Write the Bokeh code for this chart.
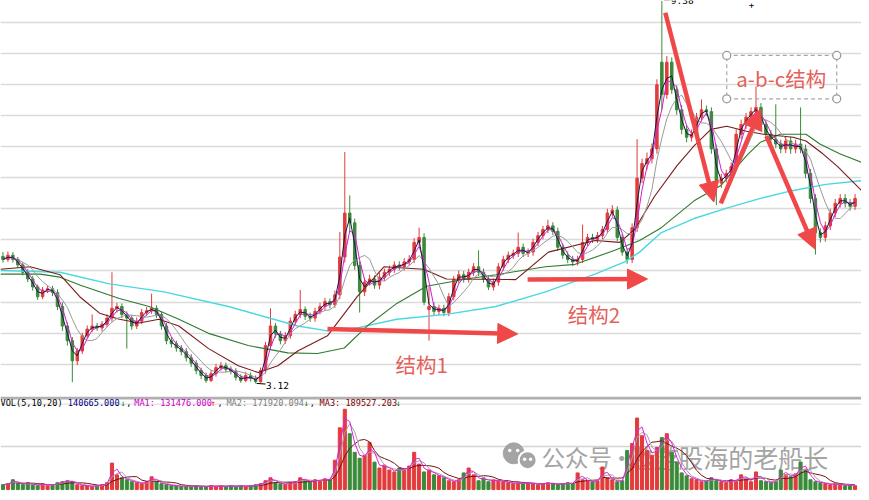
import pandas as pd
from bokeh.plotting import figure
from bokeh.layouts import column
from bokeh.models import (Range1d, FixedTicker, Span, Arrow, NormalHead, Label,
                          ColumnDataSource, Grid)
from bokeh.core.properties import value
from bokeh.embed import file_html
from bokeh.resources import INLINE

# ---------------- data ----------------
close = [
    5.15, 5.22, 5.15, 5.06, 4.94, 4.83, 4.70, 4.54, 4.65, 4.67,
    4.61, 4.38, 4.06, 3.82, 3.49, 3.65, 3.90, 4.01, 4.06, 4.03,
    4.09, 4.19, 4.35, 4.38, 4.25, 4.19, 4.06, 4.14, 4.28, 4.31,
    4.35, 4.25, 4.06, 3.82, 3.77, 3.70, 3.64, 3.54, 3.45, 3.33,
    3.25, 3.17, 3.28, 3.38, 3.41, 3.35, 3.32, 3.22, 3.17, 3.25,
    3.20, 3.15, 3.33, 3.74, 4.06, 3.93, 3.82, 3.90, 4.14, 4.25,
    4.33, 4.22, 4.19, 4.30, 4.38, 4.46, 4.41, 4.57, 5.19, 5.91,
    5.75, 5.05, 4.62, 4.78, 4.83, 4.73, 4.86, 4.94, 4.99, 5.06,
    5.03, 5.11, 5.15, 5.43, 5.51, 4.45, 4.38, 4.30, 4.35, 4.28,
    4.54, 4.82, 4.90, 4.83, 4.94, 5.03, 4.94, 4.83, 4.70, 4.78,
    5.03, 5.15, 5.22, 5.25, 5.35, 5.25, 5.27, 5.43, 5.54, 5.64,
    5.70, 5.61, 5.35, 5.22, 5.15, 5.11, 5.15, 5.43, 5.51, 5.48,
    5.54, 5.64, 5.91, 5.96, 5.51, 5.27, 5.15, 5.67, 6.48, 6.72,
    6.80, 6.96, 8.01, 7.85, 8.38, 7.93, 7.60, 7.28, 7.15, 7.20,
    7.48, 7.60, 7.57, 6.96, 6.40, 6.48, 6.56, 6.67, 7.20, 7.36,
    7.48, 7.57, 7.64, 7.36, 7.20, 7.12, 7.04, 6.96, 7.09, 6.96,
    7.04, 6.96, 6.56, 6.15, 5.59, 5.51, 5.70, 5.91, 6.07, 6.15,
    6.07, 6.02, 6.15,
]
open_ = [
    5.20, 5.15, 5.22, 5.15, 5.06, 4.94, 4.83, 4.70, 4.54, 4.65,
    4.67, 4.61, 4.38, 4.06, 3.82, 3.49, 3.65, 3.90, 4.01, 4.06,
    4.03, 4.09, 4.19, 4.35, 4.38, 4.25, 4.19, 4.06, 4.14, 4.28,
    4.31, 4.35, 4.25, 4.06, 3.82, 3.77, 3.70, 3.64, 3.54, 3.45,
    3.33, 3.25, 3.17, 3.28, 3.38, 3.41, 3.35, 3.32, 3.22, 3.17,
    3.25, 3.20, 3.15, 3.33, 3.74, 4.06, 3.93, 3.82, 3.90, 4.14,
    4.25, 4.33, 4.22, 4.19, 4.30, 4.38, 4.46, 4.41, 4.57, 5.19,
    5.91, 5.75, 5.05, 4.62, 4.78, 4.83, 4.73, 4.86, 4.94, 4.99,
    5.06, 5.03, 5.11, 5.15, 5.43, 5.51, 4.33, 4.38, 4.30, 4.35,
    4.28, 4.54, 4.82, 4.90, 4.83, 4.94, 5.03, 4.94, 4.83, 4.70,
    4.78, 5.03, 5.15, 5.22, 5.25, 5.35, 5.25, 5.27, 5.43, 5.54,
    5.64, 5.70, 5.61, 5.35, 5.22, 5.15, 5.11, 5.15, 5.43, 5.51,
    5.48, 5.54, 5.64, 5.91, 5.96, 5.51, 5.27, 5.15, 5.67, 6.48,
    6.72, 6.80, 6.96, 8.38, 7.85, 8.38, 7.93, 7.60, 7.28, 7.15,
    7.20, 7.48, 7.60, 7.57, 6.96, 6.40, 6.48, 6.56, 6.67, 7.20,
    7.36, 7.48, 7.57, 7.64, 7.36, 7.20, 7.12, 7.04, 6.96, 7.09,
    6.96, 7.04, 6.96, 6.56, 6.15, 5.59, 5.51, 5.70, 5.91, 6.07,
    6.15, 6.07, 6.02,
]
high = [
    5.27, 5.28, 5.27, 5.19, 5.10, 4.99, 4.88, 4.74, 4.70, 4.72,
    4.72, 4.66, 4.45, 4.12, 3.88, 3.70, 3.95, 4.07, 4.25, 4.11,
    4.14, 4.25, 4.94, 4.44, 4.43, 4.30, 4.24, 4.20, 4.34, 4.37,
    4.59, 4.40, 4.30, 4.11, 3.88, 3.82, 3.75, 3.70, 3.60, 3.50,
    3.38, 3.30, 3.34, 3.44, 3.47, 3.46, 3.40, 3.37, 3.27, 3.31,
    3.30, 3.25, 3.38, 3.80, 4.35, 4.11, 3.98, 3.96, 4.20, 4.31,
    4.65, 4.38, 4.28, 4.36, 4.44, 4.52, 4.51, 4.64, 5.60, 6.91,
    6.20, 5.82, 5.12, 4.85, 4.90, 4.89, 4.93, 5.00, 5.05, 5.12,
    5.12, 5.17, 5.22, 5.50, 5.67, 5.58, 4.70, 4.45, 4.41, 4.41,
    4.60, 4.88, 4.97, 4.96, 5.00, 5.09, 5.30, 5.00, 4.89, 4.84,
    5.09, 5.21, 5.28, 5.31, 5.59, 5.41, 5.33, 5.49, 5.60, 5.70,
    5.80, 5.76, 5.67, 5.41, 5.28, 5.21, 5.21, 5.72, 5.57, 5.57,
    5.60, 5.70, 5.98, 6.04, 6.02, 5.57, 5.33, 5.74, 7.12, 6.80,
    6.90, 7.05, 8.10, 9.38, 8.48, 8.46, 8.00, 7.68, 7.35, 7.28,
    7.55, 7.77, 7.67, 7.64, 7.03, 6.55, 6.62, 6.74, 7.28, 7.44,
    7.55, 7.64, 7.98, 7.71, 7.43, 7.27, 7.69, 7.11, 7.16, 7.16,
    7.11, 7.64, 7.03, 6.63, 6.22, 5.66, 5.77, 5.98, 6.14, 6.22,
    6.22, 6.14, 6.22,
]
low = [
    5.10, 5.11, 5.10, 5.01, 4.89, 4.78, 4.64, 4.49, 4.50, 4.60,
    4.55, 4.32, 3.98, 3.74, 3.14, 3.42, 3.60, 3.85, 3.96, 3.98,
    3.97, 4.04, 4.13, 4.28, 4.19, 3.69, 4.00, 4.01, 4.09, 4.23,
    4.26, 4.19, 4.00, 3.76, 3.71, 3.64, 3.58, 3.48, 3.39, 3.27,
    3.19, 3.13, 3.14, 3.23, 3.33, 3.30, 3.27, 3.17, 3.13, 3.14,
    3.15, 3.12, 3.13, 3.28, 3.68, 3.87, 3.76, 3.77, 3.85, 4.08,
    4.19, 4.16, 4.13, 4.13, 4.25, 4.32, 4.35, 4.36, 4.50, 5.10,
    5.60, 4.98, 4.28, 4.55, 4.72, 4.67, 4.66, 4.80, 4.88, 4.93,
    4.97, 4.97, 5.05, 5.09, 5.37, 4.40, 3.82, 4.24, 4.24, 4.22,
    4.22, 4.48, 4.76, 4.77, 4.77, 4.88, 4.88, 4.77, 4.65, 4.64,
    4.72, 4.97, 5.09, 5.16, 5.19, 5.19, 5.19, 5.21, 5.37, 5.48,
    5.58, 5.55, 5.29, 5.16, 5.09, 5.04, 5.05, 5.09, 5.37, 5.42,
    5.42, 5.48, 5.58, 5.85, 5.45, 5.21, 5.08, 5.09, 5.60, 6.40,
    6.62, 6.72, 6.88, 7.60, 7.78, 7.86, 7.52, 7.20, 7.07, 7.08,
    7.12, 7.41, 7.50, 6.88, 6.04, 6.32, 6.41, 6.49, 6.60, 7.12,
    7.29, 7.41, 7.50, 7.29, 7.13, 7.05, 6.97, 6.89, 6.89, 6.88,
    6.89, 6.89, 6.48, 6.07, 5.23, 5.43, 5.44, 5.63, 5.84, 6.00,
    6.00, 5.95, 5.96,
]
volume = [  # thousand shares
    175, 210, 350, 210, 175, 245, 175, 140, 210, 140,
    175, 245, 280, 315, 280, 175, 140, 140, 105, 140,
    175, 245, 945, 525, 420, 350, 280, 245, 210, 280,
    455, 280, 210, 175, 140, 140, 105, 140, 105, 140,
    105, 105, 140, 105, 140, 105, 140, 105, 140, 105,
    140, 175, 210, 315, 420, 245, 210, 175, 245, 280,
    420, 315, 280, 350, 315, 385, 350, 1050, 2205, 2870,
    1995, 1330, 1120, 1225, 1680, 980, 770, 875, 700, 630,
    770, 700, 840, 1330, 910, 630, 700, 525, 490, 420,
    315, 280, 350, 595, 770, 525, 315, 420, 280, 350,
    315, 280, 245, 210, 245, 210, 245, 210, 175, 210,
    245, 210, 175, 210, 245, 210, 595, 350, 315, 280,
    315, 805, 420, 350, 280, 315, 1400, 1645, 2555, 1925,
    1400, 1225, 1505, 1855, 1995, 1330, 980, 595, 490, 385,
    350, 280, 315, 420, 315, 280, 245, 350, 315, 525,
    385, 280, 630, 315, 280, 245, 280, 700, 525, 455,
    560, 980, 700, 350, 280, 245, 210, 175, 210, 175,
    140, 175, 140,
]

# long moving averages (bar position, price)
ma_mid_x = [-0.5, 5.5, 11.5, 15.5, 19.5, 23.5, 27.5, 31.5, 35.5, 41.5, 47.5, 51.5,
            55.5, 59.5, 65.5, 71.5, 76.9, 84.9, 89.5, 103.5, 110.1, 119.5, 124.5,
            127.5, 131.5, 136.1, 139.5, 142.9, 146.1, 150.1, 153.5, 159.5, 162.1,
            165.5, 168.5, 173.3]
ma_mid_y = [4.99, 5.03, 4.90, 4.54, 4.27, 4.17, 4.11, 4.17, 4.06, 3.69, 3.41, 3.30,
            3.41, 3.65, 3.90, 4.54, 5.03, 4.99, 4.83, 4.82, 5.27, 5.46, 5.43,
            5.64, 6.18, 6.69, 7.01, 7.28, 7.33, 7.25, 7.20, 7.15, 7.09,
            6.88, 6.67, 6.28]
ma_long_x = [-0.5, 7.5, 11.5, 15.5, 23.5, 29.5, 35.5, 41.5, 49.5, 57.5, 63.5, 68.9,
             73.5, 79.5, 85.5, 93.5, 99.5, 109.5, 115.5, 123.5, 128.5, 132.9, 139.5,
             144.9, 150.1, 152.9, 156.9, 162.1, 164.9, 168.9, 173.3]
ma_long_y = [4.91, 4.91, 4.86, 4.73, 4.51, 4.38, 4.17, 3.94, 3.74, 3.62, 3.61, 3.70,
             4.06, 4.43, 4.71, 4.83, 4.90, 5.03, 5.07, 5.30, 5.46, 5.67, 6.11,
             6.36, 6.85, 7.07, 7.20, 7.20, 7.04, 6.88, 6.74]
ma_year_x = [-0.5, 11.5, 21.5, 32.5, 45.5, 59.5, 65.5, 71.5, 79.5, 89.5, 99.5, 109.5,
             119.5, 125.5, 128.5, 132.9, 139.5, 146.1, 152.9, 159.5, 166.1, 173.3]
ma_year_y = [4.97, 4.94, 4.75, 4.62, 4.38, 4.06, 3.98, 4.03, 4.17, 4.25, 4.38, 4.62,
             4.91, 5.11, 5.27, 5.59, 5.82, 5.99, 6.15, 6.28, 6.38, 6.44]

grid_prices = [3.437, 3.945, 4.453, 4.961, 5.469, 5.977, 6.485, 6.993, 7.501,
               8.009, 8.517, 9.025]
vol_grid = [1540]

vol_text = [
    ("VOL(5,10,20)", "#000000"), ("140665.000", "#000080"), ("↓", "#008000"),
    (",", "#000000"), ("MA1: 131476.000", "#cc00cc"), ("↑", "#ff0000"),
    (",", "#000000"), ("MA2: 171920.094", "#808080"), ("↓", "#008000"),
    (",", "#000000"), ("MA3: 189527.203", "#800000"), ("↓", "#008000"),
]
vol_text_x = [0, 68, 121, 127, 135, 212, 219, 228, 306, 312, 322, 399]

# ---------------- derived ----------------
N = len(close)
xs = list(range(N))
UP, DN = "#e23b3b", "#3a8a3a"
cols = [UP if c >= o else DN for o, c in zip(open_, close)]
btop = [max(o, c) for o, c in zip(open_, close)]
bbot = [min(o, c) for o, c in zip(open_, close)]
src = ColumnDataSource(dict(x=xs, h=high, l=low, top=btop, bot=bbot, col=cols, vol=volume))

cs = pd.Series(close)
ma_a = cs.rolling(2, min_periods=1).mean().tolist()
ma_b = cs.rolling(3, min_periods=1).mean().tolist()
ma_c = cs.rolling(6, min_periods=1).mean().tolist()
vs = pd.Series(volume)
vma_a = vs.rolling(2, min_periods=1).mean().tolist()
vma_b = vs.rolling(3, min_periods=1).mean().tolist()
vma_c = vs.rolling(6, min_periods=1).mean().tolist()

W = 861
H_MAIN, H_VOL = 396, 96
SX = W / 869.0
XR = (-0.5, 173.3)

# ---------------- main panel ----------------
p = figure(width=W, height=H_MAIN, x_range=Range1d(*XR), y_range=Range1d(2.906, 9.39),
           output_backend="svg", toolbar_location=None, tools="",
           x_axis_location=None, y_axis_location=None, min_border=0)
p.outline_line_color = None
p.background_fill_color = "white"
p.border_fill_color = "white"
for g in p.grid:
    g.visible = False
p.add_layout(Grid(dimension=1, ticker=FixedTicker(ticks=grid_prices),
                  grid_line_color="#dadada", grid_line_width=1.6))

p.segment(x0="x", y0="l", x1="x", y1="h", line_color="col", line_width=1, source=src)
p.vbar(x="x", width=0.5, top="top", bottom="bot", fill_color="col", line_color="col",
       line_width=1, source=src)

p.line(ma_year_x, ma_year_y, line_color="#48d8e0", line_width=1.4)
p.line(ma_long_x, ma_long_y, line_color="#2f7a2f", line_width=1.1)
p.line(ma_mid_x, ma_mid_y, line_color="#7a1a1a", line_width=1.1)
p.line(xs, ma_c, line_color="#9a9a9a", line_width=1)
p.line(xs, ma_b, line_color="#d020d0", line_width=1)
p.line(xs, ma_a, line_color="#1a1a40", line_width=1)

MONO = value("DejaVu Sans Mono")
CJK = value("Noto Sans CJK SC")
p.segment(x0=[51.2], y0=[3.12], x1=[53.0], y1=[3.11], line_color="black", line_width=1)
p.text(x=[53.1], y=[3.09], text=["3.12"], text_font=MONO, text_font_size="9.5px",
       text_color="black", text_baseline="middle", text_align="left")
p.segment(x0=[133.4], y0=[9.40], x1=[134.6], y1=[9.40], line_color="black", line_width=1)
p.text(x=[134.8], y=[9.398], text=["9.38"], text_font=MONO, text_font_size="9.5px",
       text_color="black", text_baseline="middle", text_align="left")
p.text(x=[151.1], y=[9.33], text=["+"], text_font=MONO, text_font_size="9px",
       text_color="black", text_baseline="middle", text_align="center")

AR = "#f04848"
for xs0, ys0, xe, ye in [(65.5, 4.01, 103.9, 3.93), (105.9, 4.82, 130.1, 4.83),
                         (133.7, 9.19, 143.5, 6.09), (144.9, 6.07, 152.9, 7.61),
                         (154.1, 7.17, 163.9, 5.32)]:
    p.add_layout(Arrow(end=NormalHead(size=20, fill_color=AR, line_color=AR),
                       x_start=xs0, y_start=ys0, x_end=xe, y_end=ye,
                       line_color=AR, line_width=4.5))

TXT = "#e5605a"
p.text(x=[84.5, 119.3, 157.1], y=[3.43, 4.25, 8.12], text=["结构1", "结构2", "a-b-c结构"],
       text_font=CJK, text_font_size="20.5px", text_color=TXT,
       text_align="center", text_baseline="middle")
p.quad(left=[146.1], right=[168.3], top=[8.49], bottom=[7.78], fill_alpha=0,
       line_color="#a8a8a8", line_dash="4 3", line_width=1.2)
p.scatter(x=[146.1, 168.3, 146.1, 168.3], y=[8.49, 8.49, 7.78, 7.78], size=8,
          marker="circle", fill_color="white", line_color="#9a9a9a", line_width=1.3)

# ---------------- volume panel ----------------
v = figure(width=W, height=H_VOL, x_range=p.x_range, y_range=Range1d(-105, 3325),
           output_backend="svg", toolbar_location=None, tools="",
           x_axis_location=None, y_axis_location=None, min_border=0)
v.outline_line_color = None
for g in v.grid:
    g.visible = False
v.add_layout(Grid(dimension=1, ticker=FixedTicker(ticks=vol_grid),
                  grid_line_color="#d4d4d4", grid_line_width=1.3))
v.add_layout(Span(location=3272, dimension="width", line_color="#b0b0b0", line_width=3))
v.add_layout(Span(location=3045, dimension="width", line_color="#e6e6e6", line_width=1.5))

# watermark (under the bars)
WM = "#a4a4a4"
v.scatter(x=[103.1], y=[1295], size=21, marker="circle", fill_color=WM, line_color=WM)
v.scatter(x=[105.9], y=[1050], size=18, marker="circle", fill_color=WM,
          line_color="white", line_width=2)
v.scatter(x=[102.3, 103.9, 105.3, 106.5], y=[1400, 1400, 1085, 1085], size=3.5,
          marker="circle", fill_color="white", line_color=None)
v.text(x=[108.7], y=[1155], text=["公众号"], text_font=CJK, text_font_size="23.5px",
       text_color=WM, text_baseline="middle", text_align="left")
v.text(x=[124.9], y=[1155], text=["·"], text_font=CJK, text_font_size="23.5px",
       text_color=WM, text_baseline="middle", text_align="center")
v.text(x=[126.2], y=[1155], text=["遨游股海的老船长"], text_font=CJK,
       text_font_size="25px", text_color=WM, text_baseline="middle", text_align="left")

v.vbar(x="x", width=0.62, top="vol", bottom=0, fill_color="col", line_color="col",
       source=src)
v.line(xs, vma_c, line_color="#7a1010", line_width=1)
v.line(xs, vma_b, line_color="#a0a0a0", line_width=1)
v.line(xs, vma_a, line_color="#e020e0", line_width=1)

for (t, c), tx in zip(vol_text, vol_text_x):
    v.add_layout(Label(x=tx * SX, y=H_VOL - 6.4, x_units="screen", y_units="screen",
                       text=t, text_font="DejaVu Sans Mono", text_font_size="8.6px",
                       text_color=c, text_baseline="middle"))

layout = column(p, v, spacing=0)
open("out.html", "w").write(file_html(layout, INLINE))
